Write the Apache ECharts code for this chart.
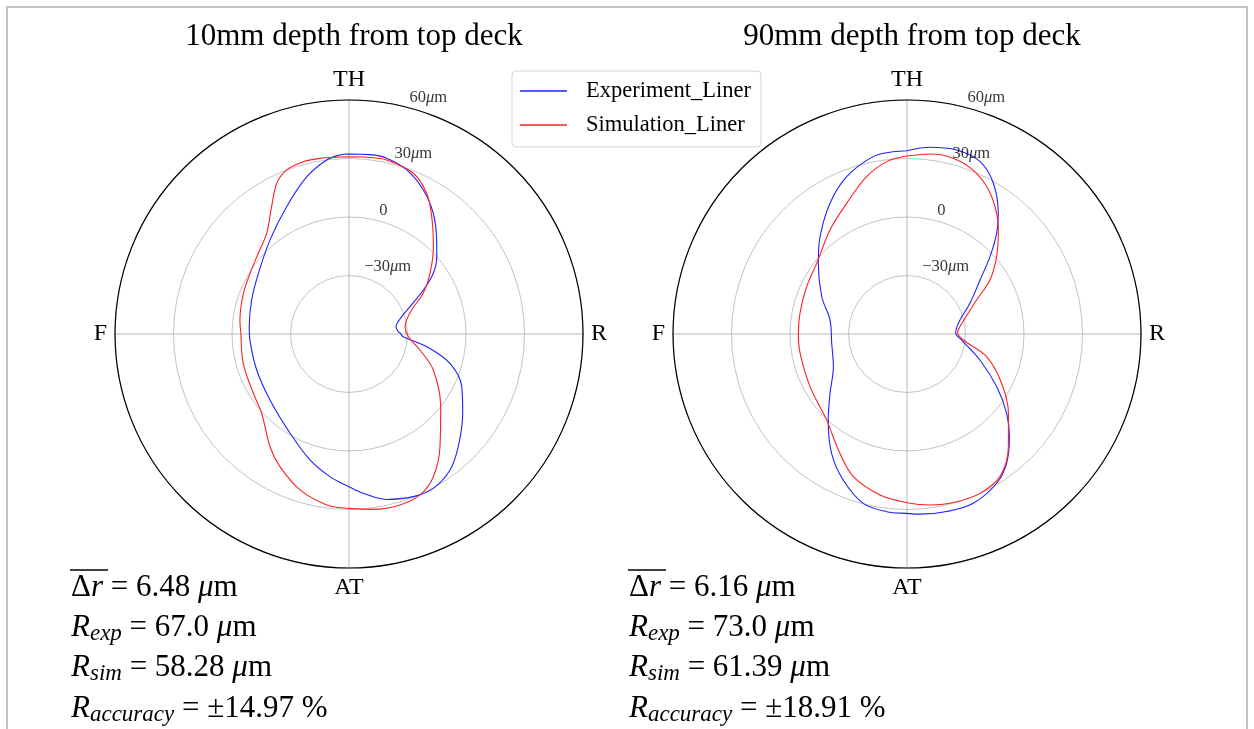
<!DOCTYPE html>
<html>
<head>
<meta charset="utf-8">
<script src="https://cdn.jsdelivr.net/npm/echarts@6/dist/echarts.min.js"></script>
<style>
  html, body { margin: 0; padding: 0; background: #fff; }
  #chart { width: 1254px; height: 729px; }
</style>
</head>
<body>
<div id="chart"></div>
<script>
// Angular positions (deg, clockwise from TH) and their labels
const ANGLE_TICKS = [0, 90, 180, 270];
const ANGLE_LABELS = ['TH', 'R', 'AT', 'F'];
// Radial deviation scale (μm)
const RADIAL_MIN = -60;
const RADIAL_MAX = 60;
const RADIAL_TICKS = [-30, 0, 30, 60];
const RADIAL_LABELS = ['−30μm', '0', '30μm', '60μm'];

const SERIES_NAMES = ['Experiment_Liner', 'Simulation_Liner'];
const PANEL_TITLES = ['10mm depth from top deck', '90mm depth from top deck'];

// Liner profiles: [angle (deg), radial deviation (μm)]
const exp10 = [
  [0, 32.3], [6.7, 32.6], [12.1, 32.2], [19.4, 29.2], [27.3, 23.1], [34.9, 15.5],
  [43, 5.9], [48.6, 0], [54.2, -6.7], [59.4, -15.7], [65.9, -25.7], [71.8, -31.5],
  [81.2, -35.6], [87.3, -34.7], [89, -33.8], [92.8, -32.1], [99.3, -19.6], [106.2, -6.1],
  [115, 3.8], [124.9, 11.1], [135.9, 20.5], [143.4, 26.9], [151.4, 30.2], [158.4, 29.7],
  [167.2, 27], [174.9, 22], [180, 18.3], [187.6, 13.8], [197.2, 7.6], [210.7, -0.8],
  [230.1, -7.2], [248.7, -9.2], [266.5, -9.1], [274.2, -8.7], [289.3, -7.1], [303.8, -4.1],
  [320, 3], [333.9, 12.7], [345, 23.5], [352.7, 30], [357.1, 31.9]
];
const sim10 = [
  [0, 30.9], [5.7, 31.1], [12.2, 31.3], [21.8, 28.8], [28.9, 22.4], [35.2, 13.6],
  [44, 2.3], [53.2, -8.1], [61.3, -16.6], [69, -25.6], [82.6, -31], [92.6, -29.5],
  [102.7, -22.7], [113.1, -13], [128.4, 0], [141.1, 14.3], [149.4, 25], [156.2, 30.2],
  [163.4, 31.5], [172.1, 30.8], [180, 29.4], [187.4, 28.4], [197.4, 23.8], [207.5, 16.7],
  [215, 10.6], [227.8, 0.5], [238.2, -2.3], [254.5, -3.7], [270.4, -4.5], [277.3, -3.6],
  [291, -2], [301.5, -0.5], [311.7, 2.3], [320.7, 6.7], [328.7, 16.4], [334.4, 25.7],
  [339.2, 30], [345.1, 31.4], [350.6, 31.3]
];
const exp90 = [
  [0, 34], [7, 36.5], [15.1, 37.7], [23, 36], [29.8, 29.1], [37.1, 17.6],
  [41.7, 9.1], [47, -1.8], [53.5, -13.4], [64, -24.1], [75.2, -31.9], [85.3, -34.8],
  [89.2, -35], [96.3, -31.8], [109.6, -20.3], [120.4, -6.7], [128.5, 5.3], [135.1, 14.4],
  [142.4, 23.7], [149, 29.3], [158.6, 33.2], [167.4, 33.3], [175.9, 32.6], [180, 32],
  [186.5, 31.7], [194.5, 29.7], [203.6, 21.7], [212.3, 12.4], [222.5, -0.2], [232.4, -10.2],
  [246.1, -18.7], [263, -21.1], [280.3, -19.9], [293.6, -12.3], [308.6, -1.8], [318.2, 6.9],
  [329.5, 17.8], [339, 26.4], [349.2, 32.6], [355.7, 33.7]
];
const sim90 = [
  [0, 31.3], [7.3, 33.1], [14.8, 33.2], [23.4, 29.8], [31.7, 22.7], [41.3, 11],
  [49.2, 0.7], [56.9, -9.2], [64, -20.3], [79, -31.3], [85.5, -33.6], [88.9, -34],
  [96.1, -30.9], [105.9, -17.5], [117.5, -5.3], [128, 6], [138, 17.7], [146.9, 27.3],
  [155.4, 29.9], [163.5, 29.7], [172.3, 28.5], [180, 26.5], [189.5, 23.7], [200.6, 18.2],
  [210.6, 9.1], [223, 0.4], [241.5, -3.4], [259.8, -4.3], [270, -4.3], [280.9, -4.1],
  [295.2, -3.1], [308, -1.2], [323.5, 6.4], [335.2, 13.8], [345.6, 23.3], [353.3, 29]
];

// Summary statistics per panel
const MEAN_DR = ['6.48', '6.16'];
const R_EXP = ['67.0', '73.0'];
const R_SIM = ['58.28', '61.39'];
const R_ACC = ['14.97', '18.91'];

const SERIF = '"Liberation Serif", "Times New Roman", serif';
const PANEL_CENTERS = [[349, 334], [907, 334]];
const PANEL_RADIUS = 234;
const STATS_X = [71, 629];
const STATS_Y = [588, 628, 668, 709];

// close each loop by repeating the first point at 360°
function toPolar(profile) {
  const pts = profile.map(([a, v]) => [v, a]);
  pts.push([profile[0][1], 360]);
  return pts;
}

function radialLabel(txt) {
  const i = txt.indexOf('μ');
  if (i < 0) return '{n|' + txt + '}';
  return '{n|' + txt.slice(0, i) + '}{i|μ}{n|' + txt.slice(i + 1) + '}';
}

const polar = PANEL_CENTERS.map(c => ({ center: c, radius: PANEL_RADIUS }));

const angleAxis = PANEL_CENTERS.map((_, k) => ({
  polarIndex: k,
  type: 'value',
  min: 0, max: 360, interval: 90,
  startAngle: 90, clockwise: true,
  axisLine: { show: true, lineStyle: { color: '#000', width: 1.2 } },
  axisTick: { show: false },
  axisLabel: {
    show: true, margin: 8,
    fontFamily: SERIF, fontSize: 24, color: '#000',
    formatter: v => { const i = ANGLE_TICKS.indexOf(v); return i >= 0 && v < 360 ? ANGLE_LABELS[i] : ''; }
  },
  splitLine: { show: true, lineStyle: { color: '#b8b8b8', width: 1 } }
}));

const radiusAxis = PANEL_CENTERS.map((_, k) => ({
  polarIndex: k,
  type: 'value',
  min: RADIAL_MIN, max: RADIAL_MAX, interval: 30,
  axisLine: { show: false },
  axisTick: { show: false },
  axisLabel: { show: false },
  splitLine: { show: true, lineStyle: { color: '#c4c4c4', width: 1 } }
}));

const series = [];
const profiles = [[exp10, sim10], [exp90, sim90]];
const colors = ['#1f1fff', '#ff2020'];
profiles.forEach((pair, k) => {
  pair.forEach((prof, j) => {
    series.push({
      name: SERIES_NAMES[j],
      type: 'line',
      coordinateSystem: 'polar',
      polarIndex: k,
      data: toPolar(prof),
      smooth: 0.35,
      symbol: 'none',
      showSymbol: false,
      lineStyle: { color: colors[j], width: 1.1 },
      itemStyle: { color: colors[j] },
      z: 3 + j,
      silent: true
    });
  });
  // radial tick labels placed along a fixed bearing
  series.push({
    type: 'scatter',
    coordinateSystem: 'polar',
    polarIndex: k,
    symbolSize: 0,
    silent: true,
    data: RADIAL_TICKS.map((t, i) => ({ value: [t, 15], name: RADIAL_LABELS[i] })),
    label: {
      show: true,
      position: [0, 0],
      align: 'left',
      verticalAlign: 'bottom',
      offset: [0, -2],
      formatter: p => radialLabel(p.name),
      rich: {
        n: { fontFamily: SERIF, fontSize: 16.5, color: '#000' },
        i: { fontFamily: SERIF, fontSize: 16.5, fontStyle: 'italic', color: '#000' }
      }
    },
    z: 6
  });
});

const mainRich = {
  n: { fontFamily: SERIF, fontSize: 31, color: '#000', lineHeight: 34 },
  i: { fontFamily: SERIF, fontSize: 31, fontStyle: 'italic', color: '#000', lineHeight: 34 },
  s: { fontFamily: SERIF, fontSize: 23, fontStyle: 'italic', color: '#000', lineHeight: 23, verticalAlign: 'bottom' }
};

const graphic = [{
  type: 'rect',
  shape: { x: 7, y: 7, width: 1240, height: 760 },
  style: { fill: 'none', stroke: '#c2c2c2', lineWidth: 2 },
  silent: true
}];
PANEL_CENTERS.forEach((_, k) => {
  const x = STATS_X[k];
  const lines = [
    '{n|Δ}{i|r}{n| = ' + MEAN_DR[k] + ' }{i|μ}{n|m}',
    '{i|R}{s|exp}{n| = ' + R_EXP[k] + ' }{i|μ}{n|m}',
    '{i|R}{s|sim}{n| = ' + R_SIM[k] + ' }{i|μ}{n|m}',
    '{i|R}{s|accuracy}{n| = ±' + R_ACC[k] + ' %}'
  ];
  lines.forEach((t, i) => {
    graphic.push({
      type: 'text', x: x, y: STATS_Y[i], silent: true,
      style: { text: t, rich: mainRich, align: 'left', verticalAlign: 'middle' }
    });
  });
  graphic.push({
    type: 'line', silent: true,
    shape: { x1: x - 1, y1: 570, x2: x + 37, y2: 570 },
    style: { stroke: '#000', lineWidth: 1.4 }
  });
});

const option = {
  animation: false,
  backgroundColor: '#fff',
  title: PANEL_TITLES.map((t, k) => ({
    text: t,
    left: PANEL_CENTERS[k][0],
    top: 16,
    textAlign: 'center',
    textStyle: { fontFamily: SERIF, fontSize: 31, fontWeight: 'normal', color: '#000' }
  })),
  legend: {
    data: SERIES_NAMES,
    orient: 'vertical',
    left: 512, top: 71,
    padding: [8, 10, 10, 8],
    itemGap: 10,
    itemWidth: 47, itemHeight: 1.5,
    icon: 'rect',
    backgroundColor: '#fff',
    borderColor: '#d4d4d4', borderWidth: 1, borderRadius: 4,
    textStyle: { fontFamily: SERIF, fontSize: 22.5, lineHeight: 24, color: '#000', padding: [0, 0, 0, 14] },
    selectedMode: false,
    z: 10
  },
  polar, angleAxis, radiusAxis, series, graphic
};

const chart = echarts.init(document.getElementById('chart'), null, { renderer: 'canvas' });
chart.setOption(option);
</script>
</body>
</html>
